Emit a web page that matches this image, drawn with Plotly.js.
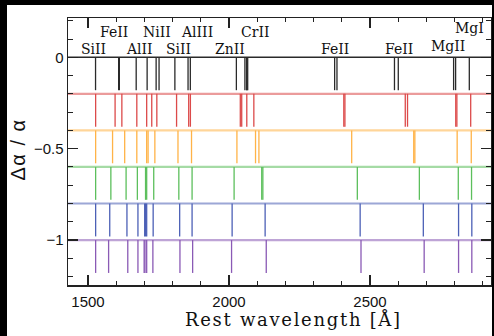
<!DOCTYPE html>
<html>
<head>
<meta charset="utf-8">
<script src="https://cdn.plot.ly/plotly-3.0.1.min.js"></script>
<style>
html,body{margin:0;padding:0;background:#000;width:494px;height:336px;overflow:hidden;}
#chart{position:absolute;left:7px;top:5px;width:485px;height:331px;}
</style>
</head>
<body>
<div id="chart"></div>
<script>
// Δα/α value of each row
const rowDalpha = [0, -0.2, -0.4, -0.6, -0.8, -1.0];
// rest wavelengths (Å) of the transitions in each row
const linesDa0 = [1526.7, 1608.5, 1611.2, 1670.8, 1709.6, 1741.5, 1751.9, 1808.0, 1854.7, 1862.8, 2026.1, 2056.3, 2062.2, 2062.7, 2066.2, 2374.5, 2382.8, 2586.7, 2600.2, 2796.4, 2803.5, 2852.1];
const linesDa02 = [1527, 1596, 1620, 1673, 1708, 1726, 1744, 1814, 1857, 1863, 2040, 2045, 2063, 2088, 2407, 2411, 2625, 2633, 2804, 2808, 2857];
const linesDa04 = [1527, 1587, 1630, 1673, 1708, 1713, 1737, 1819, 1867, 2028, 2094, 2106, 2435, 2655, 2659, 2809, 2859];
const linesDa06 = [1527, 1581, 1635, 1675, 1704, 1708, 1733, 1822, 1869, 2018, 2116, 2120, 2455, 2675, 2813, 2860];
const linesDa08 = [1527, 1577, 1638, 1677, 1701, 1704, 1708, 1731, 1825, 1869, 2011, 2128, 2465, 2689, 2814, 2861];
const linesDa10 = [1527, 1573, 1641, 1677, 1699, 1702, 1708, 1730, 1826, 1871, 2009, 2132, 2468, 2692, 2814, 2861];
const rowLines = [linesDa0, linesDa02, linesDa04, linesDa06, linesDa08, linesDa10];
// ion labels
const ionNames = ['SiII', 'FeII', 'AlII', 'NiII', 'SiII', 'AlIII', 'ZnII', 'CrII', 'FeII', 'FeII', 'MgII', 'MgI'];
const ionLabelWave = [1521, 1592, 1681, 1745, 1820, 1888, 2003, 2092, 2375, 2603, 2777, 2851];
const xTickVals = [1500, 2000, 2500];
const yTickVals = [-1, -0.5, 0];

// styles
const rowColors = ['#2a2a2a', '#dc4a4a', '#ffb347', '#5cbf5c', '#4c60b6', '#8a5ab5'];
const ionLabelY = [0.047, 0.1385, 0.047, 0.1385, 0.047, 0.1385, 0.047, 0.1385, 0.047, 0.047, 0.064, 0.161];
const TICK_DEPTH = 0.18;

const traces = rowLines.map((lams, i) => {
  const x = [], y = [];
  const off = rowDalpha[i];
  lams.forEach(l => { x.push(l, l, null); y.push(off, off - TICK_DEPTH, null); });
  return {type: 'scatter', mode: 'lines', x: x, y: y,
    line: {color: rowColors[i], width: 1.3}, hoverinfo: 'skip', showlegend: false};
});

const shapes = rowDalpha.map((d, i) => ({
  type: 'line', xref: 'paper', x0: 0, x1: 1, yref: 'y', y0: d, y1: d,
  line: {color: rowColors[i], width: i === 0 ? 1.6 : 2.2},
  opacity: i === 0 ? 1 : 0.55, layer: 'below'
}));

const annotations = ionNames.map((n, i) => ({
  text: n, x: ionLabelWave[i], y: ionLabelY[i], xref: 'x', yref: 'y',
  showarrow: false, xanchor: 'center', yanchor: 'middle',
  font: {family: 'DejaVu Serif', size: 14, color: '#111'}
}));
annotations.push({
  text: '<span style="letter-spacing:1.7px">Rest wavelength [Å]</span>',
  xref: 'paper', yref: 'paper', x: 0.532, y: 0, yshift: -34,
  xanchor: 'center', yanchor: 'middle', showarrow: false,
  font: {family: 'DejaVu Serif', size: 18, color: '#111'}
});
annotations.push({
  text: '<span style="letter-spacing:1.5px">Δα / α</span>',
  xref: 'paper', yref: 'paper', x: -0.119, y: 0.506, textangle: -90,
  xanchor: 'center', yanchor: 'middle', showarrow: false,
  font: {family: 'Liberation Sans', size: 20, color: '#111'}
});

const axisCommon = {
  showline: true, linecolor: '#222', linewidth: 1.5, mirror: 'ticks',
  ticks: 'inside', ticklen: 10, tickwidth: 1.2, tickcolor: '#222',
  showgrid: false, zeroline: false,
  tickfont: {family: 'Liberation Sans', size: 15, color: '#111'}
};

const layout = {
  width: 485, height: 331,
  margin: {l: 61, r: 1, t: 13, b: 51},
  paper_bgcolor: '#fff', plot_bgcolor: '#fff',
  showlegend: false,
  xaxis: Object.assign({}, axisCommon, {
    range: [1429, 2929], tickmode: 'array', tickvals: xTickVals, ticklabelstandoff: 2,
    minor: {dtick: 100, tick0: 0, ticks: 'inside', ticklen: 4, tickwidth: 1, tickcolor: '#222'}
  }),
  yaxis: Object.assign({}, axisCommon, {
    range: [-1.246, 0.215], tickmode: 'array', tickvals: yTickVals,
    minor: {dtick: 0.1, tick0: 0, ticks: 'inside', ticklen: 5, tickwidth: 1, tickcolor: '#222'}
  }),
  shapes: shapes,
  annotations: annotations
};

Plotly.newPlot('chart', traces, layout, {displayModeBar: false, staticPlot: true});
</script>
</body>
</html>
